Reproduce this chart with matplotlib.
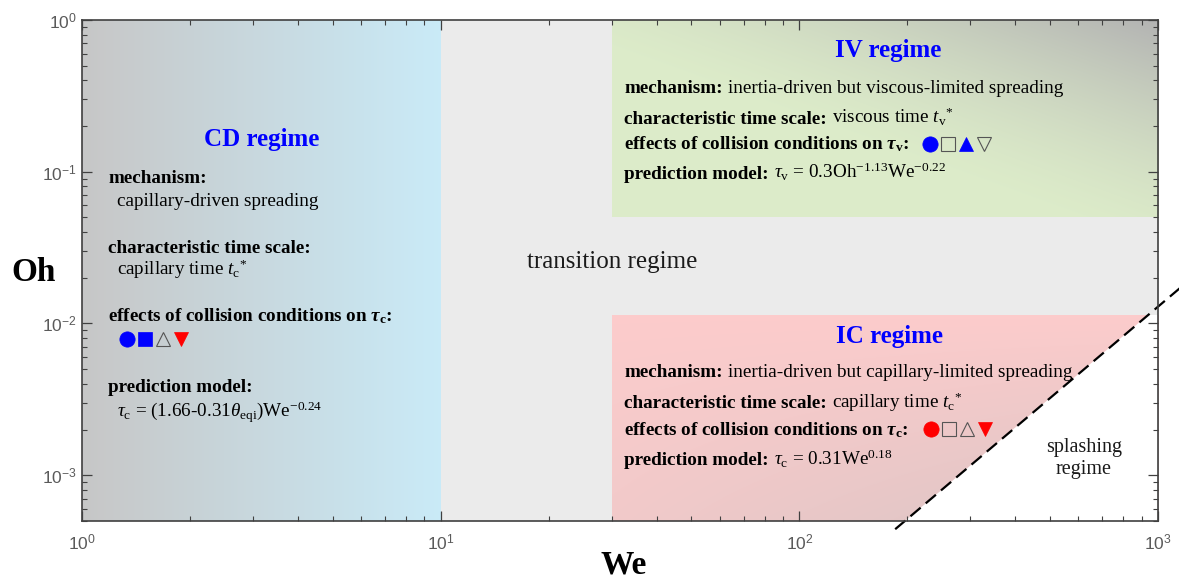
import numpy as np
import matplotlib
matplotlib.use("Agg")
import matplotlib.pyplot as plt
from matplotlib.patches import Polygon

# ---- regime map data ---------------------------------------------------------
we_limits = [1, 1000]
oh_limits = [5e-4, 1]

cd_we = [1, 10]                  # capillary-driven (CD) regime
iv_we = [30, 1000]               # inertia-driven, viscous-limited (IV) regime
iv_oh = [0.05, 1]
ic_we = [30, 1000]               # inertia-driven, capillary-limited (IC) regime
ic_oh = [5e-4, 0.0113]
splash_we = [185, 1150]          # splashing threshold, Oh ~ We^2
splash_oh = [4.41e-4, 0.01706]

# symbols for the effect of collision conditions: (marker, fill colour / None = open)
cd_symbols = [("o", "blue"), ("s", "blue"), ("^", None), ("v", "red")]
iv_symbols = [("o", "blue"), ("s", None), ("^", "blue"), ("v", None)]
ic_symbols = [("o", "red"), ("s", None), ("^", None), ("v", "red")]

# ---- style -------------------------------------------------------------------
plt.rcParams.update({
    "font.family": "Liberation Serif",
    "mathtext.fontset": "custom",
    "mathtext.rm": "Liberation Serif",
    "mathtext.it": "Liberation Serif:italic",
    "mathtext.bf": "Liberation Serif:bold",
    "mathtext.bfit": "Liberation Serif:italic:bold",
})
BODY = 13.8
TITLE = 18
BLUE = "#0000ff"

fig = plt.figure(figsize=(11.79, 5.84), dpi=100)
ax = fig.add_axes([0.0696, 0.108, 0.9126, 0.858])
ax.set_xscale("log")
ax.set_yscale("log")
ax.set_xlim(we_limits)
ax.set_ylim(oh_limits)
ax.set_facecolor("#ebebeb")

to_axes = ax.transScale + ax.transLimits


def mix(c0, c1, t):
    c0 = np.asarray(c0, float)
    c1 = np.asarray(c1, float)
    return c0 + (c1 - c0) * t[..., None]


def shade(we, oh, colour_fn, n=240):
    (x0, y0), (x1, y1) = to_axes.transform([(we[0], oh[0]), (we[1], oh[1])])
    u, v = np.meshgrid(np.linspace(0, 1, n), np.linspace(0, 1, n))
    rgb = np.clip(colour_fn(u, v), 0, 1)
    ax.imshow(rgb, extent=(x0, x1, y0, y1), transform=ax.transAxes,
              origin="lower", aspect="auto", interpolation="bilinear", zorder=0.2)


# CD: grey -> light blue from left to right
shade(cd_we, oh_limits,
      lambda u, v: mix((0.78, 0.78, 0.78), (0.79, 0.92, 0.97), u))
# IV: light green turning grey toward the upper-right corner
shade(iv_we, iv_oh,
      lambda u, v: mix((0.865, 0.925, 0.79), (0.70, 0.70, 0.70),
                       np.clip((u + v - 0.8) / 1.2, 0, 1) ** 1.5))
# IC: pink darkening toward the lower-right
shade(ic_we, ic_oh,
      lambda u, v: mix((0.99, 0.80, 0.80), (0.85, 0.77, 0.77),
                       np.clip((1 - v) * (0.3 + 0.7 * u), 0, 1)))


def splash_we_at(oh):
    return 10 ** np.interp(np.log10(oh), np.log10(splash_oh), np.log10(splash_we))


# splashing regime (white, below the threshold line)
w_lo, w_hi = splash_we_at(ic_oh[0]), splash_we_at(ic_oh[1])
ax.add_patch(Polygon([(w_lo, ic_oh[0]), (we_limits[1], ic_oh[0]),
                      (we_limits[1], ic_oh[1]), (w_hi, ic_oh[1])],
                     closed=True, facecolor="white", edgecolor="none", zorder=0.3))
ax.plot(splash_we, splash_oh, color="black", lw=1.6, dashes=(6, 3),
        clip_on=False, zorder=3)

# ---- axes cosmetics -------------------------------------------------------------
for s in ax.spines.values():
    s.set_color("#404040")
    s.set_linewidth(1.2)
    s.set_zorder(4)
ax.tick_params(which="both", direction="in", top=True, right=True,
               color="#404040", labelcolor="#5a5a5a", labelsize=12.5,
               labelfontfamily="Liberation Sans")
ax.tick_params(which="major", length=7.2, width=0.9)
ax.tick_params(which="minor", length=3.6, width=0.8)
ax.tick_params(axis="x", which="both", pad=8)
ax.tick_params(axis="y", which="both", pad=3.6)

ax.set_xlabel("We", fontsize=24, fontweight="bold")
ax.xaxis.set_label_coords(0.503, -0.088)
ax.xaxis.label.set_va("center")
ax.set_ylabel("Oh", fontsize=24, fontweight="bold", rotation=0)
ax.yaxis.set_label_coords(-0.0455, 0.495)
ax.yaxis.label.set_va("center")
ax.yaxis.label.set_ha("center")

renderer = fig.canvas.get_renderer()


def txt(x, y, s, bold=False, size=BODY, **kw):
    return ax.text(x, y, s, fontsize=size, fontweight="bold" if bold else "normal",
                   va="baseline", zorder=5, **kw)


def rich_line(x, y, head, tail=None, gap=5):
    t1 = txt(x, y, head, bold=True)
    bb = t1.get_window_extent(renderer)
    if tail:
        yd = ax.transData.transform((x, y))[1]
        xt = ax.transData.inverted().transform((bb.x1 + gap, yd))[0]
        txt(xt, y, tail)
    return bb


def symbols(x_disp, y_disp, spec, step=18):
    inv = ax.transData.inverted()
    for i, (m, fill) in enumerate(spec):
        xd, yd = inv.transform((x_disp + i * step, y_disp))
        ms = {"o": 11, "s": 9.6, "^": 10.5, "v": 10.5}[m]
        if fill:
            ax.plot([xd], [yd], marker=m, ms=ms, mfc=fill, mec=fill, mew=0.5,
                    ls="none", zorder=6, clip_on=False)
        else:
            ax.plot([xd], [yd], marker=m, ms=ms, mfc="none", mec="#555555",
                    mew=0.8, ls="none", zorder=6, clip_on=False)


# ---- CD regime text ---------------------------------------------------------------
ax.text(3.16, 0.148, "CD regime", fontsize=TITLE, fontweight="bold", color=BLUE,
        ha="center", va="baseline", zorder=5)
cd_x, cd_xi = 1.182, 1.255
txt(cd_x, 0.0847, "mechanism:", bold=True)
txt(cd_xi, 0.0598, "capillary-driven spreading")
txt(cd_x, 0.0293, "characteristic time scale:", bold=True)
txt(cd_xi, 0.0207, r"capillary time $t_{\rm c}{}^{*}$")
txt(cd_x, 0.0103, r"effects of collision conditions on $\mathbfit{\tau}_{\mathbf{c}}$:", bold=True)
xs, ys = ax.transData.transform((cd_xi, 0.00785))
symbols(xs + 10, ys, cd_symbols)
txt(cd_x, 0.00352, "prediction model:", bold=True)
txt(cd_xi, 0.00241, r"$\tau_{\rm c}$ = (1.66-0.31$\theta_{\rm eqi}$)We$^{-0.24}$")

# ---- IV regime text ---------------------------------------------------------------
ax.text(176.7, 0.571, "IV regime", fontsize=TITLE, fontweight="bold", color=BLUE,
        ha="center", va="baseline", zorder=5)
iv_x = 32.45
rich_line(iv_x, 0.331, "mechanism:", "inertia-driven but viscous-limited spreading")
rich_line(iv_x, 0.207, "characteristic time scale:", r"viscous time $t_{\rm v}{}^{*}$")
bb = rich_line(iv_x, 0.1396,
               r"effects of collision conditions on $\mathbfit{\tau}_{\mathbf{v}}$:")
yb = ax.transData.transform((iv_x, 0.1396))[1]
symbols(bb.x1 + 20, yb + 6, iv_symbols)
rich_line(iv_x, 0.0899, "prediction model:",
          r"$\tau_{\rm v}$ = 0.3Oh$^{-1.13}$We$^{-0.22}$")

# ---- IC regime text ---------------------------------------------------------------
ax.text(178.9, 0.00738, "IC regime", fontsize=TITLE, fontweight="bold", color=BLUE,
        ha="center", va="baseline", zorder=5)
ic_x = 32.45
rich_line(ic_x, 0.00441, "mechanism:", "inertia-driven but capillary-limited spreading")
rich_line(ic_x, 0.00276, "characteristic time scale:", r"capillary time $t_{\rm c}{}^{*}$")
bb = rich_line(ic_x, 0.00183,
               r"effects of collision conditions on $\mathbfit{\tau}_{\mathbf{c}}$:")
yb = ax.transData.transform((ic_x, 0.00183))[1]
symbols(bb.x1 + 22, yb + 6, ic_symbols)
rich_line(ic_x, 0.00116, "prediction model:", r"$\tau_{\rm c}$ = 0.31We$^{0.18}$")

# ---- other regimes ----------------------------------------------------------------
ax.text(30.05, 0.0233, "transition regime", fontsize=18, ha="center",
        va="baseline", color="#1a1a1a", zorder=5)
ax.text(621.8, 0.001416, "splashing", fontsize=14.5, ha="center", va="baseline",
        color="#1a1a1a", zorder=5)
ax.text(621.8, 0.001015, "regime", fontsize=14.5, ha="center", va="baseline",
        color="#1a1a1a", zorder=5)

ax.set_xlim(we_limits)
ax.set_ylim(oh_limits)
fig.savefig("out.png", dpi=100)
